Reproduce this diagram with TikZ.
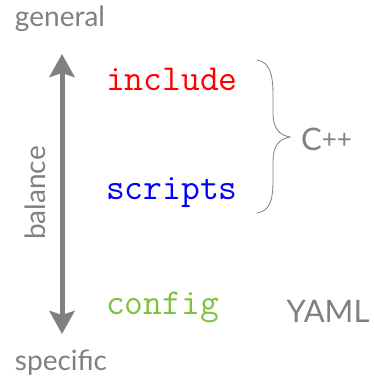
\documentclass[tikz,border=0pt]{standalone}
\usepackage{fontspec}
\setmainfont{Lato}
\usetikzlibrary{arrows.meta}
\definecolor{txtgray}{RGB}{128,128,128}
\definecolor{cfggreen}{RGB}{128,194,64}
\tikzset{
  lbl/.style={text=txtgray, font=\fontsize{28}{30}\selectfont, inner sep=0pt},
  lang/.style={text=txtgray, font=\fontsize{31}{33}\selectfont, inner sep=0pt},
  code/.style={font=\ttfamily\fontsize{36.5}{40}\selectfont, inner sep=0pt, anchor=west},
  axis/.style={draw=txtgray, line width=5pt, {Stealth[length=23pt,width=25pt,inset=4pt]}-{Stealth[length=23pt,width=25pt,inset=4pt]}},
  bracestyle/.style={draw=txtgray, line width=0.8pt}
}
\begin{document}
\begin{tikzpicture}[x=1pt,y=-1pt]
\useasboundingbox (0,0) rectangle (374,378);
\node[lbl] (general) at (60,19) {general};
\node[lbl] (specific) at (61,363) {specific};
\coordinate (top) at (62,54);
\coordinate (bot) at (62,334);
\draw[axis] (bot) -- (top);
\node[lbl, rotate=90] (balance) at (35,193) {balance};
\node[code, text=red] (include) at (106,79) {include};
\node[code, text=blue] (scripts) at (106,193) {scripts};
\node[code, text=cfggreen] (config) at (106,307) {config};
\draw[bracestyle] (257,60) .. controls (270,62) and (273,75) .. (273,95) -- (273,112)
  .. controls (273,130) and (280,135) .. (290,137) coordinate (tip)
  .. controls (280,139) and (273,144) .. (273,162) -- (273,180)
  .. controls (273,200) and (270,211) .. (257,213);
\node[lang, anchor=base west] (cpp) at (301,150) {C\raisebox{1.5pt}{\fontsize{26}{28}\selectfont++}};
\node[lang] (yaml) at (328,311) {YAML};
\end{tikzpicture}
\end{document}
